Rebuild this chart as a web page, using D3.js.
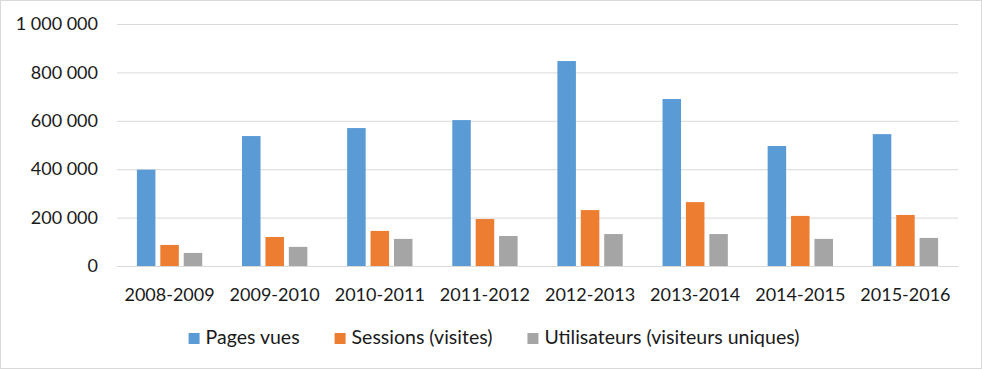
<!DOCTYPE html>
<html>
<head>
<meta charset="utf-8">
<script src="https://cdn.jsdelivr.net/npm/d3@7"></script>
<style>
  html, body { margin: 0; padding: 0; background: #fff; }
  svg { display: block; }
  text { font-family: Lato, "Open Sans", sans-serif; fill: #1a1a1a; }
</style>
</head>
<body>
<svg id="chart" width="982" height="370"></svg>
<script>
const categories = ["2008-2009","2009-2010","2010-2011","2011-2012","2012-2013","2013-2014","2014-2015","2015-2016"];
const seriesNames = ["Pages vues","Sessions (visites)","Utilisateurs (visiteurs uniques)"];
const pagesVues = [398000, 537000, 570000, 603000, 847000, 690000, 496000, 545000];
const sessions = [87000, 120000, 145000, 194000, 231000, 264000, 207000, 211000];
const utilisateurs = [54000, 79000, 112000, 124000, 132000, 132000, 112000, 116000];
const yTicks = [0, 200000, 400000, 600000, 800000, 1000000];
const colors = ["#5b9bd5", "#ed7d31", "#a5a5a5"];

const seriesValues = [pagesVues, sessions, utilisateurs];
const rows = categories.map((c, i) => ({cat: c, vals: seriesValues.map((s, j) => ({name: seriesNames[j], v: s[i], color: colors[j]}))}));

const svg = d3.select("#chart");
const W = 982, H = 370;
const plot = {left: 117, right: 958, top: 24, bottom: 266};

// outer border
svg.append("rect").attr("x", 0.5).attr("y", 0.5).attr("width", W - 1).attr("height", H - 2)
  .attr("fill", "#fff").attr("stroke", "#d9d9d9").attr("stroke-width", 1);

const x0 = d3.scaleBand().domain(categories).range([plot.left, plot.right]).paddingInner(0).paddingOuter(0);
const x1 = d3.scaleBand().domain(seriesNames).range([0, x0.bandwidth()]).paddingInner(0.209).paddingOuter(0.85);
const y = d3.scaleLinear().domain([0, 1000000]).range([plot.bottom, plot.top]);

const locale = d3.formatLocale({decimal: ",", thousands: " ", grouping: [3], currency: ["", " €"]});
const fmt = locale.format(",d");

// gridlines + y labels
const yAxis = d3.axisLeft(y).tickValues(yTicks).tickSize(-(plot.right - plot.left)).tickPadding(19).tickFormat(fmt);
const gy = svg.append("g").attr("transform", `translate(${plot.left},0)`).call(yAxis);
gy.select(".domain").remove();
gy.selectAll(".tick line").attr("stroke", "#d9d9d9").attr("stroke-width", 1);
gy.selectAll(".tick text").attr("font-size", 18).attr("fill", "#1a1a1a").attr("font-family", "Lato, sans-serif");

// bars
const groups = svg.append("g").selectAll("g").data(rows).join("g")
  .attr("transform", d => `translate(${x0(d.cat)},0)`);
groups.selectAll("rect").data(d => d.vals).join("rect")
  .attr("x", d => x1(d.name))
  .attr("width", x1.bandwidth())
  .attr("y", d => y(d.v))
  .attr("height", d => y(0) - y(d.v))
  .attr("fill", d => d.color);

// x axis
const xAxis = d3.axisBottom(x0).tickSize(0).tickPadding(22);
const gx = svg.append("g").attr("transform", `translate(0,${plot.bottom})`).call(xAxis);
gx.select(".domain").attr("stroke", "#d9d9d9").attr("stroke-width", 1);
gx.selectAll(".tick text").attr("font-size", 18).attr("fill", "#1a1a1a").attr("font-family", "Lato, sans-serif");

// legend
const legend = svg.append("g");
const items = legend.selectAll("g").data(seriesNames).join("g");
items.append("rect").attr("width", 11).attr("height", 11).attr("y", 333).attr("fill", (d, i) => colors[i]);
items.append("text").attr("x", 17).attr("y", 344).attr("font-size", 19.5).text(d => d);
// layout legend items horizontally, centered
let xpos = 0;
const positions = [];
items.each(function() {
  const w = this.getBBox().width;
  positions.push(xpos);
  xpos += w + 35;
});
const total = xpos - 35;
const startX = (W - total) / 2 + 3;
items.attr("transform", (d, i) => `translate(${startX + positions[i]},0)`);
</script>
</body>
</html>
